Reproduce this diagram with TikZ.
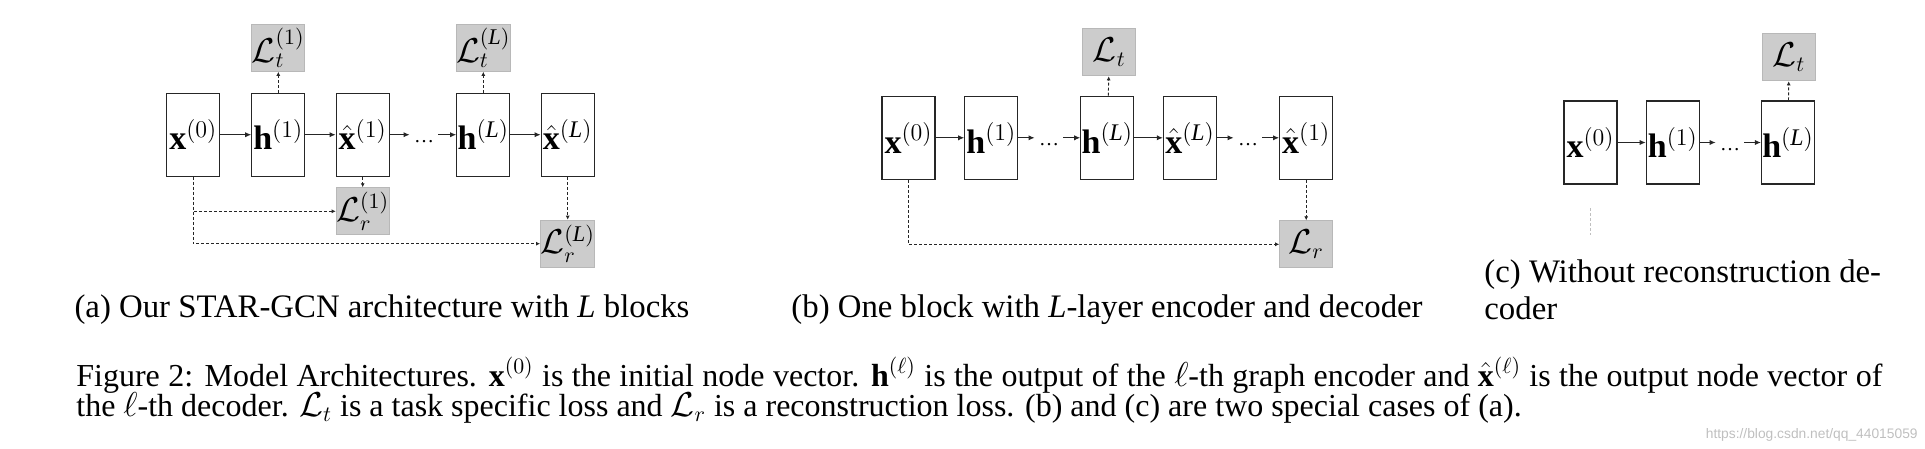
\documentclass[tikz,border=0pt]{standalone}
\usepackage{fontspec}
\setmainfont{Liberation Serif}
\newfontfamily\wmfont{Liberation Sans}
\usetikzlibrary{arrows.meta}
\begin{document}
\begin{tikzpicture}[x=0.5pt,y=-0.5pt,
  blk/.style={draw=black!85, line width=0.6pt, minimum width=26.5pt, minimum height=41.5pt, inner sep=0pt, font=\fontsize{17}{19}\selectfont},
  loss/.style={fill=black!20, draw=black!28, line width=0.5pt, minimum width=26.5pt, minimum height=23.5pt, inner sep=0pt, font=\fontsize{16}{18}\selectfont},
  dts/.style={inner sep=2pt, text height=8pt, text depth=0pt, font=\fontsize{10}{12}\selectfont},
  flow/.style={-{Latex[length=3pt,width=2.6pt]}, line width=0.5pt, draw=black!85},
  aux/.style={-{Latex[length=2pt,width=2pt]}, dash pattern=on 1.5pt off 1pt, line width=0.45pt, draw=black!85},
  captxt/.style={font=\fontsize{16.4}{18.5}\selectfont, inner sep=0pt},
  figtxt/.style={font=\fontsize{16}{15.2}\selectfont, inner sep=0pt},
  wm/.style={font=\wmfont\fontsize{6.9}{8}\selectfont, text=black!25, inner sep=0pt}
]
\useasboundingbox (0,0) rectangle (1925,449);

% ---------------- (a) ----------------
\node[blk] (ax0) at (193.3,134.7) {$\mathbf{x}^{(0)}$};
\node[blk] (ah1) at (278.3,134.7) {$\mathbf{h}^{(1)}$};
\node[blk] (axh1) at (362.7,134.7) {$\hat{\mathbf{x}}^{(1)}$};
\node[dts] (ad) at (424,134.7) {…};
\node[blk] (ahL) at (483.3,134.7) {$\mathbf{h}^{(\mathit{L})}$};
\node[blk] (axhL) at (567.7,134.7) {$\hat{\mathbf{x}}^{(\mathit{L})}$};
\node[loss] (aLt1) at (278.3,47.8) {$\mathcal{L}_t^{(1)}$};
\node[loss] (aLtL) at (483.3,47.8) {$\mathcal{L}_t^{(\mathit{L})}$};
\node[loss] (aLr1) at (362.7,211.3) {$\mathcal{L}_r^{(1)}$};
\node[loss] (aLrL) at (567.7,243.7) {$\mathcal{L}_r^{(\mathit{L})}$};
\draw[flow] (ax0) -- (ah1);
\draw[flow] (ah1) -- (axh1);
\draw[flow] (axh1) -- (ad);
\draw[flow] (ad) -- (ahL);
\draw[flow] (ahL) -- (axhL);
\draw[aux] (ah1) -- (aLt1);
\draw[aux] (ahL) -- (aLtL);
\draw[aux] (axh1) -- (aLr1);
\draw[aux] (axhL) -- (aLrL);
\draw[aux] (ax0.south) |- (aLr1.west);
\draw[aux] (ax0.south) |- (aLrL.west);

% ---------------- (b) ----------------
\node[blk] (bx0) at (908.5,137.8) {$\mathbf{x}^{(0)}$};
\node[blk] (bh1) at (991.3,137.8) {$\mathbf{h}^{(1)}$};
\node[dts] (bd1) at (1049,137.8) {…};
\node[blk] (bhL) at (1107.3,137.8) {$\mathbf{h}^{(\mathit{L})}$};
\node[blk] (bxhL) at (1190,137.8) {$\hat{\mathbf{x}}^{(\mathit{L})}$};
\node[dts] (bd2) at (1248,137.8) {…};
\node[blk] (bxh1) at (1306.2,137.8) {$\hat{\mathbf{x}}^{(1)}$};
\node[loss] (bLt) at (1109.3,52.3) {$\mathcal{L}_t$};
\node[loss] (bLr) at (1306.2,244.3) {$\mathcal{L}_r$};
\draw[flow] (bx0) -- (bh1);
\draw[flow] (bh1) -- (bd1);
\draw[flow] (bd1) -- (bhL);
\draw[flow] (bhL) -- (bxhL);
\draw[flow] (bxhL) -- (bd2);
\draw[flow] (bd2) -- (bxh1);
\draw[aux] (bhL) -- (bLt);
\draw[aux] (bxh1) -- (bLr);
\draw[aux] (bx0.south) |- (bLr.west);

% ---------------- (c) ----------------
\node[blk] (cx0) at (1590.5,142.5) {$\mathbf{x}^{(0)}$};
\node[blk] (ch1) at (1672.8,142.5) {$\mathbf{h}^{(1)}$};
\node[dts] (cd) at (1730,142.5) {…};
\node[blk] (chL) at (1788,142.5) {$\mathbf{h}^{(\mathit{L})}$};
\node[loss] (cLt) at (1789,57.3) {$\mathcal{L}_t$};
\draw[flow] (cx0) -- (ch1);
\draw[flow] (ch1) -- (cd);
\draw[flow] (cd) -- (chL);
\draw[aux] (chL) -- (cLt);
\draw[black!25, line width=0.4pt, dash pattern=on 1.5pt off 1pt] (1590,208) -- (1590,235);

% ---------------- captions ----------------
\node[captxt, anchor=base] (capa) at (382,317) {(a) Our STAR-GCN architecture with \textit{L} blocks};
\node[captxt, anchor=base] (capb) at (1107,317) {(b) One block with \textit{L}-layer encoder and decoder};
\node[captxt, anchor=base west] (capc1) at (1484,282) {(c) Without reconstruction de-};
\node[captxt, anchor=base west] (capc2) at (1484,319) {coder};
\node[figtxt, anchor=base west] (fig) at (76,386) {\parbox[t]{903pt}{\lineskiplimit=-\maxdimen Figure 2: Model Architectures. $\mathbf{x}^{(0)}$ is the initial node vector. $\mathbf{h}^{(\ell)}$ is the output of the $\ell$-th graph encoder and $\hat{\mathbf{x}}^{(\ell)}$ is the output node vector of\linebreak the $\ell$-th decoder. $\mathcal{L}_t$ is a task specific loss and $\mathcal{L}_r$ is a reconstruction loss. (b) and (c) are two special cases of (a).}};
\node[wm, anchor=base east] (wmk) at (1918,438) {https://blog.csdn.net/qq\_44015059};
\end{tikzpicture}
\end{document}
